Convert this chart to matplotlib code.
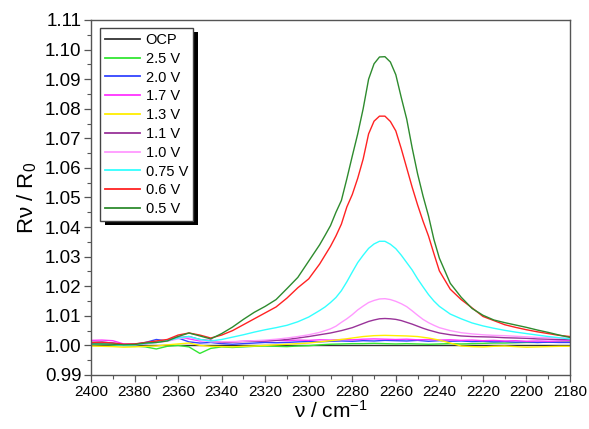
import matplotlib
matplotlib.use("Agg")
import matplotlib.pyplot as plt
from matplotlib.ticker import MultipleLocator, FormatStrFormatter
from matplotlib.patches import Rectangle
from matplotlib.transforms import IdentityTransform

plt.rcParams['font.family'] = ['Liberation Sans', 'DejaVu Sans']
plt.rcParams['mathtext.fontset'] = 'custom'
plt.rcParams['mathtext.rm'] = 'Liberation Sans'
plt.rcParams['mathtext.it'] = 'Liberation Sans'

# wavenumber grid for the flat (baseline) spectra
wavenumber = [2400, 2395, 2390, 2385, 2380, 2375, 2370, 2365, 2360, 2355,
              2350, 2345, 2340, 2335, 2330, 2325, 2320, 2315, 2310, 2305,
              2300, 2295, 2290, 2285, 2280, 2275, 2270, 2265, 2260, 2255,
              2250, 2245, 2240, 2235, 2230, 2225, 2220, 2215, 2210, 2205,
              2200, 2195, 2190, 2185, 2180]

# denser wavenumber grid for the spectra with a band
wavenumber_band = [2400, 2395, 2390, 2385, 2380, 2375, 2370, 2365, 2360, 2355,
                   2350, 2345, 2340, 2335, 2330, 2325, 2320, 2315, 2310, 2305,
                   2300, 2295,
                   2292.5, 2290, 2287.5, 2285, 2282.5, 2280, 2277.5, 2275, 2272.5, 2270,
                   2267.5, 2265, 2262.5, 2260, 2257.5, 2255, 2252.5, 2250, 2247.5, 2245,
                   2242.5,
                   2240, 2235, 2230, 2225, 2220, 2215, 2210, 2205, 2200, 2195,
                   2190, 2185, 2180]

ocp = [1.0000, 1.0000, 1.0000, 1.0000, 1.0000, 1.0000, 1.0000, 1.0000, 1.0000, 1.0000,
       1.0000, 1.0000, 1.0000, 1.0000, 1.0000, 1.0000, 1.0000, 1.0000, 1.0000, 1.0000,
       1.0000, 1.0000, 1.0000, 1.0000, 1.0000, 1.0000, 1.0000, 1.0000, 1.0000, 1.0000,
       1.0000, 1.0000, 1.0000, 1.0000, 1.0000, 1.0000, 1.0000, 1.0000, 1.0000, 1.0000,
       1.0000, 1.0000, 1.0000, 1.0000, 1.0000]
v2_5 = [1.0005, 1.0004, 1.0002, 1.0000, 0.9998, 0.9995, 0.9988, 0.9997, 1.0000, 0.9995,
        0.9973, 0.9990, 0.9995, 0.9993, 0.9995, 0.9997, 0.9998, 0.9997, 0.9996, 0.9998,
        0.9999, 1.0002, 1.0004, 1.0005, 1.0006, 1.0006, 1.0007, 1.0006, 1.0005, 1.0006,
        1.0005, 1.0004, 1.0005, 1.0006, 1.0005, 1.0006, 1.0007, 1.0008, 1.0008, 1.0009,
        1.0010, 1.0010, 1.0011, 1.0012, 1.0012]
v2_0 = [1.0010, 1.0011, 1.0008, 1.0003, 1.0004, 1.0010, 1.0020, 1.0015, 1.0025, 1.0012,
        1.0008, 1.0010, 1.0006, 1.0004, 1.0006, 1.0008, 1.0010, 1.0009, 1.0010, 1.0012,
        1.0013, 1.0012, 1.0014, 1.0015, 1.0014, 1.0016, 1.0015, 1.0017, 1.0016, 1.0015,
        1.0017, 1.0014, 1.0016, 1.0014, 1.0015, 1.0013, 1.0014, 1.0012, 1.0013, 1.0011,
        1.0012, 1.0010, 1.0011, 1.0010, 1.0010]
v1_7 = [1.0017, 1.0018, 1.0016, 1.0005, 1.0002, 1.0005, 1.0012, 1.0018, 1.0030, 1.0022,
        1.0015, 1.0018, 1.0010, 1.0012, 1.0014, 1.0016, 1.0015, 1.0017, 1.0016, 1.0018,
        1.0017, 1.0019, 1.0018, 1.0020, 1.0019, 1.0021, 1.0022, 1.0021, 1.0020, 1.0021,
        1.0019, 1.0020, 1.0018, 1.0019, 1.0017, 1.0018, 1.0016, 1.0017, 1.0015, 1.0016,
        1.0014, 1.0015, 1.0014, 1.0015, 1.0016]
v1_3 = [0.9998, 0.9997, 0.9996, 0.9994, 0.9995, 0.9997, 0.9998, 1.0002, 1.0005, 1.0008,
        1.0000, 0.9997, 0.9996, 0.9995, 0.9997, 0.9998, 1.0000, 1.0002, 1.0004, 1.0006,
        1.0008, 1.0012, 1.0016, 1.0020, 1.0025, 1.0030, 1.0033, 1.0034, 1.0033, 1.0032,
        1.0030, 1.0025, 1.0018, 1.0008, 0.9998, 0.9996, 0.9995, 0.9997, 0.9998, 0.9996,
        0.9994, 0.9995, 0.9996, 0.9997, 0.9997]

v1_1 = [1.0008, 1.0009, 1.0006, 1.0003, 1.0004, 1.0008, 1.0012, 1.0016, 1.0025, 1.0030,
        1.0020, 1.0015, 1.0010, 1.0012, 1.0013, 1.0014, 1.0015, 1.0017, 1.0020, 1.0025,
        1.0030, 1.0036,
        1.0039, 1.0042, 1.0046, 1.0050, 1.0055, 1.0060, 1.0067, 1.0074, 1.0081, 1.0086,
        1.0090, 1.0091, 1.0090, 1.0088, 1.0084, 1.0078, 1.0072, 1.0065, 1.0058, 1.0052,
        1.0047,
        1.0042, 1.0036, 1.0032, 1.0030, 1.0029, 1.0028, 1.0026, 1.0025, 1.0024, 1.0022,
        1.0021, 1.0020, 1.0020]
v1_0 = [1.0006, 1.0007, 1.0005, 1.0002, 1.0003, 1.0007, 1.0010, 1.0014, 1.0022, 1.0028,
        1.0018, 1.0012, 1.0012, 1.0013, 1.0014, 1.0016, 1.0018, 1.0021, 1.0025, 1.0030,
        1.0036, 1.0044,
        1.0050, 1.0056, 1.0065, 1.0078, 1.0090, 1.0104, 1.0120, 1.0133, 1.0145, 1.0152,
        1.0157, 1.0158, 1.0155, 1.0149, 1.0141, 1.0131, 1.0117, 1.0102, 1.0088, 1.0077,
        1.0068,
        1.0060, 1.0050, 1.0043, 1.0039, 1.0036, 1.0034, 1.0033, 1.0031, 1.0029, 1.0027,
        1.0026, 1.0025, 1.0024]
v0_75 = [1.0004, 1.0005, 1.0003, 1.0000, 1.0002, 1.0006, 1.0010, 1.0016, 1.0025, 1.0030,
         1.0020, 1.0015, 1.0020, 1.0028, 1.0036, 1.0045, 1.0053, 1.0060, 1.0068, 1.0080,
         1.0096, 1.0118,
         1.0130, 1.0145, 1.0162, 1.0185, 1.0215, 1.0248, 1.0280, 1.0305, 1.0328, 1.0343,
         1.0352, 1.0352, 1.0342, 1.0327, 1.0305, 1.0280, 1.0255, 1.0225, 1.0198, 1.0172,
         1.0150,
         1.0132, 1.0106, 1.0090, 1.0076, 1.0066, 1.0058, 1.0051, 1.0045, 1.0040, 1.0035,
         1.0030, 1.0026, 1.0022]
v0_6 = [1.0010, 1.0011, 1.0008, 1.0004, 1.0005, 1.0010, 1.0015, 1.0020, 1.0035, 1.0042,
        1.0035, 1.0025, 1.0035, 1.0050, 1.0070, 1.0090, 1.0110, 1.0130, 1.0160, 1.0195,
        1.0225, 1.0275,
        1.0305, 1.0335, 1.0370, 1.0410, 1.0468, 1.0510, 1.0565, 1.0630, 1.0715, 1.0758,
        1.0775, 1.0775, 1.0757, 1.0725, 1.0665, 1.0600, 1.0535, 1.0475, 1.0420, 1.0370,
        1.0310,
        1.0252, 1.0190, 1.0155, 1.0127, 1.0098, 1.0084, 1.0070, 1.0061, 1.0053, 1.0046,
        1.0040, 1.0034, 1.0030]
v0_5 = [1.0005, 1.0005, 1.0004, 1.0002, 1.0003, 1.0008, 1.0010, 1.0015, 1.0030, 1.0042,
        1.0032, 1.0022, 1.0040, 1.0062, 1.0088, 1.0112, 1.0132, 1.0155, 1.0192, 1.0230,
        1.0285, 1.0340,
        1.0372, 1.0405, 1.0450, 1.0490, 1.0563, 1.0640, 1.0715, 1.0800, 1.0900, 1.0952,
        1.0975, 1.0976, 1.0958, 1.0915, 1.0838, 1.0765, 1.0668, 1.0580, 1.0505, 1.0438,
        1.0358,
        1.0295, 1.0210, 1.0163, 1.0125, 1.0102, 1.0086, 1.0077, 1.0069, 1.0061, 1.0052,
        1.0044, 1.0035, 1.0027]

labels = ['OCP', '2.5 V', '2.0 V', '1.7 V', '1.3 V', '1.1 V', '1.0 V', '0.75 V', '0.6 V', '0.5 V']
series = [ocp, v2_5, v2_0, v1_7, v1_3, v1_1, v1_0, v0_75, v0_6, v0_5]
colors = ['#333333', '#33e633', '#3344ff', '#ff33ff', '#ffee00', '#993399',
          '#ff99ff', '#33ffff', '#ff2222', '#2e8b2e']

fig = plt.figure(figsize=(5.89, 4.29), dpi=100)
ax = fig.add_axes([91/589, 1 - 375/429, (570 - 91)/589, (375 - 20)/429])

for y, c, lab in zip(series, colors, labels):
    x = wavenumber if len(y) == len(wavenumber) else wavenumber_band
    ax.plot(x, y, color=c, lw=1.0, label=lab)

ax.set_xlim(2400, 2180)
ax.set_ylim(0.99, 1.11)
ax.xaxis.set_major_locator(MultipleLocator(20))
ax.xaxis.set_minor_locator(MultipleLocator(10))
ax.yaxis.set_major_locator(MultipleLocator(0.01))
ax.yaxis.set_minor_locator(MultipleLocator(0.005))
ax.yaxis.set_major_formatter(FormatStrFormatter('%.2f'))
ax.tick_params(which='major', direction='out', length=5, width=0.9, color='#555555', pad=2)
ax.tick_params(axis='x', labelsize=11)
ax.tick_params(axis='y', labelsize=13.5)
ax.tick_params(which='minor', direction='out', length=3, width=0.8, color='#555555')
for s in ax.spines.values():
    s.set_color('#555555')
    s.set_linewidth(1.0)

ax.set_xlabel(r'ν / cm$^{-1}$', fontsize=15, labelpad=1)
ax.set_ylabel(r'Rν / R$_0$', fontsize=16, labelpad=4)

leg = ax.legend(loc='upper left', bbox_to_anchor=(0.018, 0.978), fontsize=10.5,
                frameon=True, fancybox=False, framealpha=1, edgecolor='#444444',
                handlelength=2.4, handletextpad=0.4, labelspacing=0.33,
                borderpad=0.35, borderaxespad=0)
leg.get_frame().set_linewidth(1.0)
leg.set_zorder(10)
for line in leg.get_lines():
    line.set_linewidth(1.3)

fig.canvas.draw()
bb = leg.get_window_extent()
shadow = Rectangle((bb.x0 + 5, bb.y0 - 4), bb.width, bb.height, transform=IdentityTransform(),
                   facecolor='black', edgecolor='none', zorder=9, clip_on=False)
ax.add_patch(shadow)

fig.savefig('out.png', dpi=100)
